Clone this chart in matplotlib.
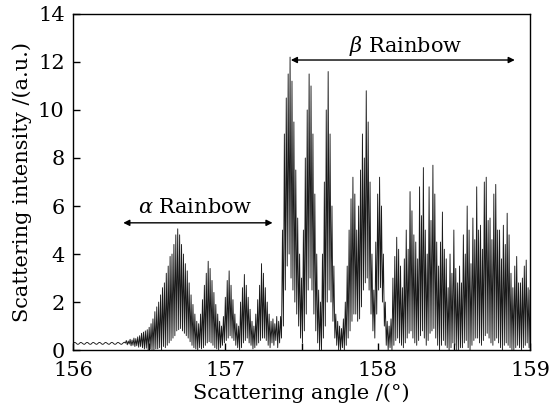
import numpy as np
import matplotlib
matplotlib.use("Agg")
import matplotlib.pyplot as plt
from matplotlib.ticker import MultipleLocator

# fringe maxima / minima, one pair every 0.0125 deg from 156.0
angle_start = 156.0
angle_step = 0.0125

peaks = [
    # 156.00 - 156.3375 (almost flat wavy tail)
    0.28, 0.32, 0.26, 0.25, 0.32, 0.28, 0.24, 0.31, 0.30, 0.24, 0.29, 0.31, 0.25, 0.27,
    0.32, 0.26, 0.25, 0.32, 0.28, 0.24, 0.31, 0.30, 0.24, 0.29, 0.31, 0.25, 0.27, 0.33,
    # 156.35 -
    0.40, 0.38, 0.45, 0.42, 0.50, 0.48, 0.55, 0.60,
    0.70, 0.75, 0.80, 0.85, 0.95, 1.10, 1.30, 1.60,
    1.80, 2.00, 2.30, 2.60, 2.80, 3.20, 3.50, 3.90,
    4.00, 4.40, 4.80, 5.05, 4.80, 4.40, 4.00, 3.60,
    3.30, 2.80, 2.30, 1.90, 1.50, 1.20, 1.10, 1.50,
    2.10, 2.70, 3.20, 3.70, 3.40, 2.90, 2.40, 1.90,
    1.50, 1.20, 1.00, 1.40, 2.20, 2.90, 3.30, 2.70,
    2.10, 1.50, 1.10, 1.00, 2.00, 2.60, 3.15, 2.70,
    2.20, 1.70, 1.20, 1.00, 1.50, 2.10, 2.70, 3.60,
    3.20, 2.60, 2.00, 1.50, 1.20, 1.30, 1.10, 1.40,
    # 157.35 - beta region
    1.20, 1.40, 5.00, 9.00, 10.5, 11.5, 12.2, 11.2,
    9.50, 7.50, 5.50, 4.00, 3.00, 5.00, 8.00, 10.0,
    11.5, 11.0, 9.00, 6.50, 4.00, 2.50, 2.00, 4.00,
    7.00, 10.0, 11.6, 9.00, 6.00, 3.50, 1.50, 1.20,
    1.00, 0.90, 1.30, 2.00, 3.50, 5.00, 6.30, 7.20,
    6.50, 5.00, 6.00, 7.50, 9.00, 8.00, 10.8, 9.50,
    7.00, 4.00, 2.50, 4.50, 6.50, 7.20, 6.00, 4.00,
    2.00, 1.20, 1.00, 1.30, 3.00, 3.90, 4.70, 4.20,
    3.50, 2.60, 3.80, 5.00, 4.20, 6.60, 5.80, 4.80,
    4.50, 3.80, 6.80, 5.60, 7.60, 5.00, 4.00, 6.80,
    5.40, 7.70, 6.50, 4.50, 3.50, 4.50, 5.75, 4.20,
    3.80, 2.60, 4.00, 3.20, 5.00, 3.40, 2.80, 3.50,
    2.80, 4.80, 4.00, 6.00, 5.00, 3.60, 5.50, 4.60,
    6.80, 5.00, 5.20, 4.20, 7.00, 7.20, 5.40, 5.50,
    4.60, 6.50, 6.90, 5.00, 5.00, 3.80, 5.20, 4.40,
    5.70, 4.80, 3.20, 2.60, 3.50, 3.90, 2.80, 2.80,
    3.00, 3.50, 3.75, 2.60, 2.50,
]

troughs = [
    0.31, 0.30, 0.24, 0.29, 0.31, 0.25, 0.27, 0.32, 0.26, 0.25, 0.32, 0.28, 0.24, 0.31,
    0.30, 0.24, 0.29, 0.31, 0.25, 0.27, 0.32, 0.26, 0.25, 0.32, 0.28, 0.24, 0.31, 0.29,
    0.22, 0.25, 0.18, 0.20, 0.15, 0.18, 0.12, 0.15,
    0.10, 0.05, 0.08, 0.00, 0.05, 0.02, 0.00, 0.05,
    0.05, 0.10, 0.00, 0.15, 0.10, 0.20, 0.30, 0.40,
    0.50, 0.60, 0.80, 0.85, 0.90, 0.80, 0.70, 0.60,
    0.50, 0.35, 0.20, 0.10, 0.05, 0.00, 0.10, 0.05,
    0.10, 0.20, 0.30, 0.35, 0.30, 0.20, 0.10, 0.05,
    0.00, 0.10, 0.20, 0.30, 0.40, 0.50, 0.60, 0.50,
    0.40, 0.20, 0.10, 0.00, 0.10, 0.30, 0.40, 0.50,
    0.30, 0.20, 0.05, 0.10, 0.20, 0.30, 0.40, 0.50,
    0.50, 0.40, 0.20, 0.10, 0.30, 0.20, 0.40, 0.10,
    0.30, 0.50, 1.00, 2.50, 3.50, 4.00, 3.00, 2.50,
    2.00, 1.50, 1.00, 0.50, 0.30, 0.80, 1.50, 2.50,
    3.00, 2.50, 1.50, 0.80, 0.30, 0.00, 0.00, 0.50,
    1.00, 2.00, 2.50, 2.00, 1.20, 0.50, 0.20, 0.00,
    0.00, 0.10, 0.00, 0.20, 0.50, 0.80, 1.20, 1.50,
    1.50, 1.20, 1.30, 1.80, 2.50, 2.80, 3.00, 2.50,
    1.50, 0.80, 0.50, 1.50, 2.50, 2.60, 2.00, 1.00,
    0.20, 0.00, 0.10, 0.00, 0.20, 0.40, 0.50, 0.30,
    0.20, 0.10, 0.30, 0.50, 0.70, 0.80, 0.50, 0.30,
    0.20, 0.40, 0.60, 0.80, 0.50, 0.20, 0.40, 0.70,
    0.80, 0.90, 0.50, 0.20, 0.00, 0.20, 0.40, 0.20,
    0.10, 0.00, 0.10, 0.30, 0.20, 0.00, 0.00, 0.10,
    0.10, 0.30, 0.40, 0.10, 0.00, 0.20, 0.40, 0.50,
    0.50, 0.30, 0.20, 0.40, 0.60, 0.70, 0.50, 0.30,
    0.20, 0.40, 0.50, 0.30, 0.10, 0.00, 0.20, 0.30,
    0.20, 0.10, 0.00, 0.00, 0.10, 0.20, 0.10, 0.00,
    0.10, 0.20, 0.30, 0.10,
]

x_ticks = [156, 157, 158, 159]
y_ticks = [0, 2, 4, 6, 8, 10, 12, 14]

# zigzag: peak, trough, peak, ...
n = len(peaks)
x_peak = angle_start + angle_step * np.arange(n)
x_trough = x_peak[:-1] + angle_step / 2
x = np.empty(n + len(troughs))
y = np.empty(n + len(troughs))
x[0::2] = x_peak
x[1::2] = x_trough
y[0::2] = peaks
y[1::2] = troughs

plt.rcParams['font.family'] = 'DejaVu Serif'
plt.rcParams['mathtext.fontset'] = 'dejavuserif'

fig = plt.figure(figsize=(5.55, 4.09), dpi=100)
ax = fig.add_axes([0.1315, 0.144, 0.8235, 0.822])
ax.plot(x, y, color='#1a1a1a', lw=0.65)

ax.set_xlim(156, 159)
ax.set_ylim(0, 14)
ax.set_xticks(x_ticks)
ax.set_yticks(y_ticks)
ax.xaxis.set_minor_locator(MultipleLocator(0.5))
ax.tick_params(direction='in', labelsize=15, length=5, width=1)
ax.tick_params(axis='x', pad=8)
ax.tick_params(axis='y', pad=6)
ax.tick_params(which='minor', direction='in', length=5, width=1)
ax.set_xlabel('Scattering angle /(°)', fontsize=15, labelpad=2)
ax.set_ylabel('Scattering intensity /(a.u.)', fontsize=15, labelpad=4)
for s in ax.spines.values():
    s.set_linewidth(1)

arrow = dict(arrowstyle='<|-|>', color='black', lw=1, mutation_scale=9,
             shrinkA=0, shrinkB=0)
ax.annotate('', xy=(156.33, 5.3), xytext=(157.31, 5.3), arrowprops=arrow)
ax.text(156.8, 5.95, r'$\alpha$ Rainbow', ha='center', va='center', fontsize=15)
ax.annotate('', xy=(157.43, 12.08), xytext=(158.9, 12.08), arrowprops=arrow)
ax.text(158.18, 12.65, r'$\beta$ Rainbow', ha='center', va='center', fontsize=15)

fig.savefig('out.png', dpi=100)
